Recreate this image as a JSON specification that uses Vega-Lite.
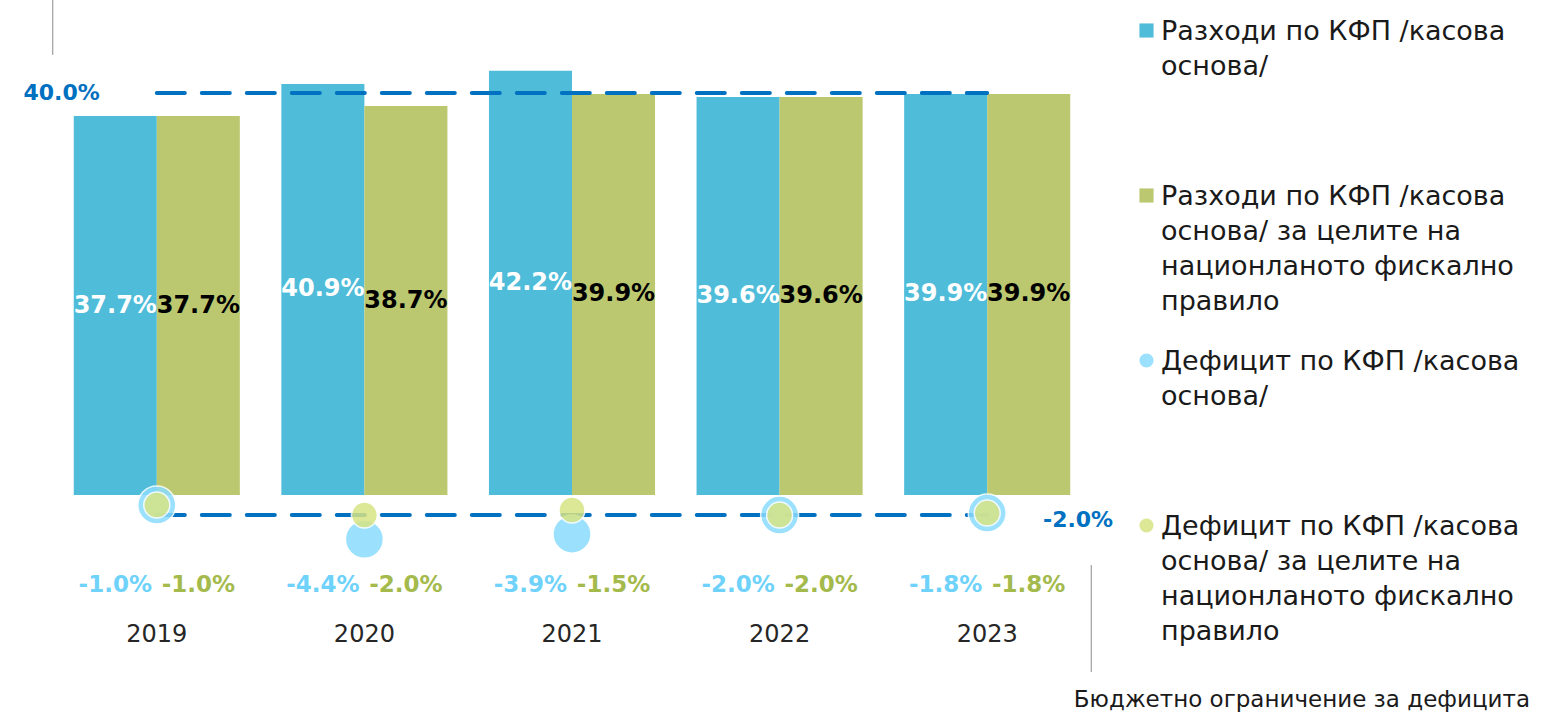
{
  "$schema": "https://vega.github.io/schema/vega-lite/v6.json",
  "width": 1038,
  "height": 610,
  "autosize": {"type": "none"},
  "padding": {"left": 53, "top": 0, "right": 456, "bottom": 104},
  "config": {
    "view": {"stroke": null},
    "font": "DejaVu Sans",
    "locale": {"number": {"decimal": ".", "thousands": ",", "grouping": [3], "currency": ["$", ""], "minus": "-"}}
  },
  "title": {
    "text": "Бюджетно ограничение за дефицита",
    "orient": "bottom",
    "anchor": "end",
    "frame": "group",
    "font": "DejaVu Sans",
    "fontSize": 23,
    "fontWeight": "normal",
    "color": "#1a1a1a",
    "dx": 439,
    "offset": 17
  },
  "datasets": {
    "bars": [
      {"year": "2019", "basis": "КФП", "series": "Разходи по КФП /касова основа/", "value": 0.377},
      {"year": "2019", "basis": "правило", "series": "Разходи по КФП /касова основа/ за целите на национланото фискално правило", "value": 0.377},
      {"year": "2020", "basis": "КФП", "series": "Разходи по КФП /касова основа/", "value": 0.409},
      {"year": "2020", "basis": "правило", "series": "Разходи по КФП /касова основа/ за целите на национланото фискално правило", "value": 0.387},
      {"year": "2021", "basis": "КФП", "series": "Разходи по КФП /касова основа/", "value": 0.422},
      {"year": "2021", "basis": "правило", "series": "Разходи по КФП /касова основа/ за целите на национланото фискално правило", "value": 0.399},
      {"year": "2022", "basis": "КФП", "series": "Разходи по КФП /касова основа/", "value": 0.396},
      {"year": "2022", "basis": "правило", "series": "Разходи по КФП /касова основа/ за целите на национланото фискално правило", "value": 0.396},
      {"year": "2023", "basis": "КФП", "series": "Разходи по КФП /касова основа/", "value": 0.399},
      {"year": "2023", "basis": "правило", "series": "Разходи по КФП /касова основа/ за целите на национланото фискално правило", "value": 0.399}
    ],
    "deficits": [
      {"year": "2019", "basis": "КФП", "series": "Дефицит по КФП /касова основа/", "value": -0.010},
      {"year": "2020", "basis": "КФП", "series": "Дефицит по КФП /касова основа/", "value": -0.044},
      {"year": "2021", "basis": "КФП", "series": "Дефицит по КФП /касова основа/", "value": -0.039},
      {"year": "2022", "basis": "КФП", "series": "Дефицит по КФП /касова основа/", "value": -0.020},
      {"year": "2023", "basis": "КФП", "series": "Дефицит по КФП /касова основа/", "value": -0.018},
      {"year": "2019", "basis": "правило", "series": "Дефицит по КФП /касова основа/ за целите на национланото фискално правило", "value": -0.010},
      {"year": "2020", "basis": "правило", "series": "Дефицит по КФП /касова основа/ за целите на национланото фискално правило", "value": -0.020},
      {"year": "2021", "basis": "правило", "series": "Дефицит по КФП /касова основа/ за целите на национланото фискално правило", "value": -0.015},
      {"year": "2022", "basis": "правило", "series": "Дефицит по КФП /касова основа/ за целите на национланото фискално правило", "value": -0.020},
      {"year": "2023", "basis": "правило", "series": "Дефицит по КФП /касова основа/ за целите на национланото фискално правило", "value": -0.018}
    ],
    "limits": [
      {"limit": "Разходи", "value": 0.4},
      {"limit": "Дефицит", "value": -0.02}
    ]
  },
  "encoding": {
    "x": {
      "field": "year",
      "type": "nominal",
      "scale": {"paddingInner": 0.2, "paddingOuter": 0.1},
      "axis": {
        "title": null,
        "domain": false,
        "ticks": false,
        "labelAngle": 0,
        "labelFont": "DejaVu Sans",
        "labelFontSize": 24,
        "labelColor": "#262626",
        "labelPadding": 12
      }
    },
    "y": {
      "field": "value",
      "type": "quantitative",
      "scale": {"domain": [-0.1144, 0.4925], "nice": false, "zero": false},
      "axis": null
    }
  },
  "layer": [
    {
      "data": {"name": "bars"},
      "mark": {"type": "bar"},
      "encoding": {
        "xOffset": {"field": "basis", "type": "nominal", "scale": {"domain": ["КФП", "правило"], "paddingInner": 0, "paddingOuter": 0}},
        "y2": {"datum": 0},
        "color": {
          "field": "series",
          "type": "nominal",
          "scale": {
            "domain": [
              "Разходи по КФП /касова основа/",
              "Разходи по КФП /касова основа/ за целите на национланото фискално правило",
              "Дефицит по КФП /касова основа/",
              "Дефицит по КФП /касова основа/ за целите на национланото фискално правило"
            ],
            "range": ["#4fbcd9", "#bbc870", "#8adcfd", "#d6e484"]
          },
          "legend": {
            "orient": "none",
            "legendX": 1080,
            "legendY": 17,
            "title": null,
            "direction": "vertical",
            "padding": 0,
            "labelFont": "DejaVu Sans",
            "labelFontSize": 27,
            "labelColor": "#1a1a1a",
            "labelLimit": 800,
            "labelOffset": 1,
            "labelBaseline": "alphabetic",
            "symbolSize": 200,
            "rowPadding": 32,
            "labelExpr": "indexof(datum.label, 'Разходи') == 0 && length(datum.label) < 40 ? ['Разходи по КФП /касова', 'основа/', ' ', ' '] : indexof(datum.label, 'Разходи') == 0 ? ['Разходи по КФП /касова', 'основа/ за целите на', 'национланото фискално', 'правило'] : length(datum.label) < 40 ? ['Дефицит по КФП /касова', 'основа/', ' ', ' '] : ['Дефицит по КФП /касова', 'основа/ за целите на', 'национланото фискално', 'правило']",
            "encode": {
              "symbols": {
                "update": {
                  "shape": {"signal": "indexof(datum.value, 'Дефицит') == 0 ? 'circle' : 'square'"},
                  "opacity": {"signal": "indexof(datum.value, 'Дефицит') == 0 ? 0.85 : 1"},
                  "strokeWidth": {"value": 0}
                }
              },
              "labels": {
                "update": {
                  "dy": {"value": 9},
                  "lineHeight": {"value": 35}
                }
              }
            }
          }
        }
      }
    },
    {
      "data": {"name": "bars"},
      "transform": [{"calculate": "datum.value / 2", "as": "mid"}],
      "mark": {"type": "text", "font": "DejaVu Sans", "fontWeight": "bold", "fontSize": 24, "baseline": "middle"},
      "encoding": {
        "xOffset": {"field": "basis", "type": "nominal"},
        "y": {"field": "mid", "type": "quantitative"},
        "text": {"field": "value", "type": "quantitative", "format": ".1%"},
        "color": {"condition": {"test": "datum.basis == 'КФП'", "value": "#ffffff"}, "value": "#000000"}
      }
    },
    {
      "data": {"name": "limits"},
      "mark": {"type": "rule", "color": "#0070c0", "strokeWidth": 4, "strokeDash": [28, 17], "strokeCap": "round"},
      "encoding": {
        "x": {"datum": "2019", "bandPosition": 0.5},
        "x2": {"datum": "2023", "bandPosition": 0.5},
        "y": {"field": "value", "type": "quantitative"}
      }
    },
    {
      "data": {"name": "deficits"},
      "mark": {"type": "point", "shape": "circle", "filled": true, "opacity": 0.85, "stroke": "#ffffff", "strokeWidth": 1.5},
      "encoding": {
        "color": {"field": "series", "type": "nominal"},
        "size": {"condition": {"test": "datum.basis == 'КФП'", "value": 1444}, "value": 676}
      }
    },
    {
      "data": {"name": "deficits"},
      "mark": {"type": "text", "font": "DejaVu Sans", "fontWeight": "bold", "fontSize": 23, "baseline": "middle"},
      "encoding": {
        "xOffset": {"field": "basis", "type": "nominal"},
        "y": {"datum": -0.09},
        "text": {"field": "value", "type": "quantitative", "format": ".1%"},
        "color": {"condition": {"test": "datum.basis == 'КФП'", "value": "#6ed2fa"}, "value": "#a4ba4c"}
      }
    },
    {
      "data": {"name": "limits"},
      "transform": [{"filter": "datum.limit == 'Разходи'"}],
      "mark": {"type": "text", "font": "DejaVu Sans", "fontWeight": "bold", "fontSize": 22, "color": "#0070c0", "align": "right", "baseline": "middle"},
      "encoding": {
        "x": {"datum": "2019", "bandPosition": 0.157},
        "text": {"field": "value", "type": "quantitative", "format": ".1%"}
      }
    },
    {
      "data": {"name": "limits"},
      "transform": [{"filter": "datum.limit == 'Дефицит'"}],
      "mark": {"type": "text", "font": "DejaVu Sans", "fontWeight": "bold", "fontSize": 22, "color": "#0070c0", "align": "left", "baseline": "middle", "dy": 5},
      "encoding": {
        "x": {"datum": "2023", "bandPosition": 0.836},
        "text": {"field": "value", "type": "quantitative", "format": ".1%"}
      }
    },
    {
      "data": {"name": "limits"},
      "transform": [{"filter": "datum.limit == 'Разходи'"}],
      "mark": {"type": "rule", "color": "#8c8c8c", "strokeWidth": 1, "xOffset": -21},
      "encoding": {
        "x": {"datum": "2019", "bandPosition": 0},
        "y": {"datum": 0.4925},
        "y2": {"datum": 0.4378}
      }
    },
    {
      "data": {"name": "limits"},
      "transform": [{"filter": "datum.limit == 'Дефицит'"}],
      "mark": {"type": "rule", "color": "#8c8c8c", "strokeWidth": 1, "xOffset": 21},
      "encoding": {
        "x": {"datum": "2023", "bandPosition": 1},
        "y": {"datum": -0.0697},
        "y2": {"datum": -0.176}
      }
    }
  ]
}
